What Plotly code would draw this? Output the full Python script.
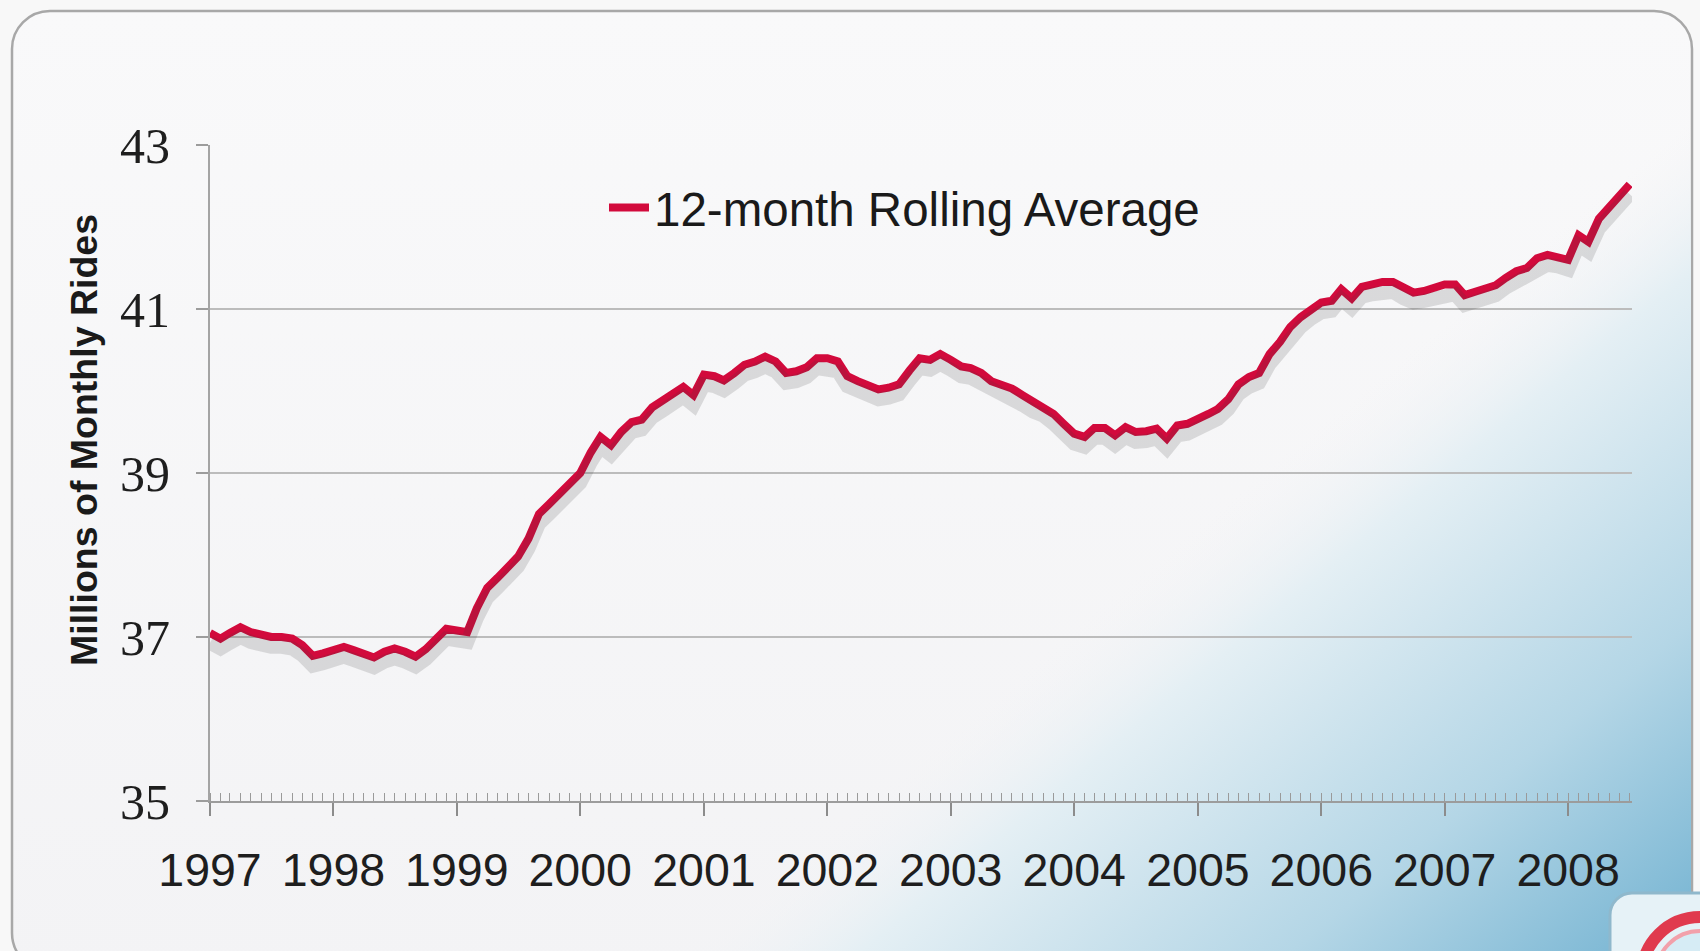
import base64
import pandas as pd
import plotly.graph_objects as go

# ---- data (millions of monthly rides, 12-month rolling average, Jan 1997 onward) ----
series_name = "12-month Rolling Average"
start_month = "1997-01-01"
rides = [
    37.05, 36.98, 37.05, 37.12, 37.06, 37.02, 37.00, 37.00, 36.98, 36.90, 36.77, 36.80,   # 1997
    36.84, 36.88, 36.84, 36.79, 36.75, 36.82, 36.86, 36.82, 36.76, 36.85, 36.98, 37.10,   # 1998
    37.08, 37.06, 37.35, 37.60, 37.72, 37.85, 37.98, 38.20, 38.50, 38.62, 38.75, 38.88,   # 1999
    39.00, 39.25, 39.44, 39.34, 39.50, 39.62, 39.65, 39.80, 39.88, 39.98, 40.05, 39.95,   # 2000
    40.20, 40.18, 40.13, 40.22, 40.32, 40.36, 40.42, 40.36, 40.22, 40.24, 40.29, 40.40,   # 2001
    40.40, 40.36, 40.18, 40.12, 40.08, 40.02, 40.04, 40.08, 40.25, 40.40, 40.38, 40.45,   # 2002
    40.38, 40.30, 40.28, 40.22, 40.12, 40.08, 40.03, 39.95, 39.87, 39.82, 39.72, 39.60,   # 2003
    39.48, 39.44, 39.55, 39.55, 39.46, 39.56, 39.50, 39.51, 39.54, 39.42, 39.58, 39.60,   # 2004
    39.65, 39.72, 39.78, 39.90, 40.08, 40.17, 40.22, 40.45, 40.60, 40.78, 40.90, 41.00,   # 2005
    41.08, 41.10, 41.24, 41.13, 41.27, 41.30, 41.33, 41.33, 41.25, 41.20, 41.22, 41.25,   # 2006
    41.30, 41.30, 41.17, 41.21, 41.25, 41.29, 41.38, 41.46, 41.50, 41.62, 41.66, 41.64,   # 2007
    41.60, 41.90, 41.82, 42.10, 42.24, 42.38, 42.52,                                      # 2008
]
y_ticks = [35, 37, 39, 41, 43]
y_title = "Millions of Monthly Rides"

months = pd.date_range(start_month, periods=len(rides), freq="MS")

# ---- figure geometry ----
W, H = 1700, 951
L, R, T, B = 210, 68, 145, 150
PW, PH = W - L - R, H - T - B

# ---- decorative slide background (rounded panel + blue corner wash) ----
svg = f"""<svg xmlns="http://www.w3.org/2000/svg" width="{W}" height="{H}" viewBox="0 0 {W} {H}">
<defs>
<linearGradient id="wash" gradientUnits="userSpaceOnUse" x1="1290" y1="450" x2="1700" y2="951">
<stop offset="0" stop-color="#f4f4f6" stop-opacity="0"/>
<stop offset="0.18" stop-color="#e4eff4" stop-opacity="1"/>
<stop offset="0.6" stop-color="#b4d6e6" stop-opacity="1"/>
<stop offset="1" stop-color="#72b2d1" stop-opacity="1"/>
</linearGradient>
<linearGradient id="top" x1="0" y1="0" x2="0" y2="1">
<stop offset="0" stop-color="#f9f9fa"/>
<stop offset="1" stop-color="#f3f3f5"/>
</linearGradient>
</defs>
<rect width="{W}" height="{H}" fill="#f8f8f8"/>
<rect x="12" y="11" width="1680" height="960" rx="38" ry="38" fill="url(#top)" stroke="#a8a8a8" stroke-width="2.5"/>
<rect x="13" y="12" width="1678" height="958" rx="37" ry="37" fill="url(#wash)"/>
<rect x="1610" y="893" width="160" height="120" rx="22" ry="22" fill="#e6f2f7" stroke="#8fb8cc" stroke-width="3"/>
<circle cx="1700" cy="975" r="58" fill="none" stroke="#e03a4e" stroke-width="12"/>
<circle cx="1700" cy="975" r="44" fill="#d6ecf5" stroke="#f2a0aa" stroke-width="4"/>
</svg>"""
bg_src = "data:image/svg+xml;base64," + base64.b64encode(svg.encode()).decode()

fig = go.Figure()

# soft drop shadow under the line (same data on a slightly shifted overlay axis)
fig.add_trace(go.Scatter(
    x=months, y=rides, mode="lines", yaxis="y2",
    line=dict(color="rgba(60,60,60,0.16)", width=14),
    showlegend=False, hoverinfo="skip",
))
fig.add_trace(go.Scatter(
    x=months, y=rides, mode="lines", name=series_name,
    line=dict(color="#d20a3c", width=8),
))

fig.update_layout(
    width=W, height=H,
    margin=dict(l=L, r=R, t=T, b=B, pad=0),
    paper_bgcolor="#f8f8f8",
    plot_bgcolor="rgba(0,0,0,0)",
    images=[dict(
        source=bg_src, xref="paper", yref="paper",
        x=-L / PW, y=1 + T / PH, sizex=W / PW, sizey=H / PH,
        xanchor="left", yanchor="top", sizing="stretch", layer="below",
    )],
    xaxis=dict(
        type="date",
        range=["1997-01-01", "2008-07-08"],
        tick0="1997-01-01", dtick="M12", tickformat="%Y",
        ticks="outside", ticklen=13, tickwidth=1.5, tickcolor="#8c8c8c",
        minor=dict(dtick="M1", ticks="inside", ticklen=8, tickwidth=1, tickcolor="#9a9a9a", showgrid=False),
        showline=True, linecolor="#9c9c9c", linewidth=2,
        showgrid=False, zeroline=False,
        tickfont=dict(family="Liberation Sans, Arial, sans-serif", size=46.5, color="#1e1e1e"),
        ticklabelstandoff=14,
    ),
    yaxis=dict(
        range=[35, 43], tickvals=y_ticks,
        ticks="outside", ticklen=12, tickwidth=1.5, tickcolor="#9c9c9c",
        showline=True, linecolor="#a4a4a4", linewidth=2,
        showgrid=True, gridcolor="#bcbcbc", gridwidth=2,
        zeroline=False,
        tickfont=dict(family="Liberation Serif, Times New Roman, serif", size=50, color="#1e1e1e"),
        ticklabelstandoff=16,
    ),
    yaxis2=dict(
        range=[35.12, 43.12], overlaying="y", visible=False,
    ),
    legend=dict(
        x=(604 - L) / PW, y=1 - (170 - T) / PH, xanchor="left", yanchor="top",
        bgcolor="rgba(0,0,0,0)", borderwidth=0,
        font=dict(family="Liberation Sans, Arial, sans-serif", size=47.5, color="#1a1a1a"),
        itemwidth=40,
    ),
    showlegend=True,
    annotations=[dict(
        text=f"<b>{y_title}</b>", xref="paper", yref="paper",
        x=(84 - L) / PW, y=1 - (440 - T) / PH, textangle=-90,
        showarrow=False, xanchor="center", yanchor="middle",
        font=dict(family="Liberation Sans, Arial, sans-serif", size=37.5, color="#1a1a1a"),
    )],
)

fig.write_html(
    "out.html",
    config={"displayModeBar": False},
    post_script="document.body.style.margin='0';document.body.style.overflow='hidden';",
)
